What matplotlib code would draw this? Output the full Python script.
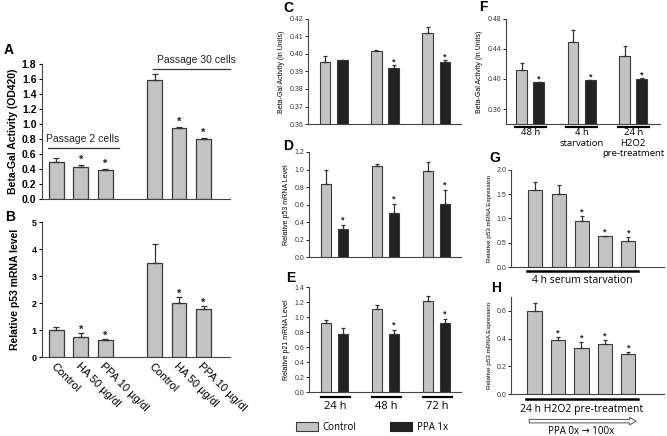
import numpy as np
import matplotlib
matplotlib.use('Agg')
import matplotlib.pyplot as plt
from matplotlib.patches import Patch

plt.rcParams['font.family'] = ['Liberation Sans', 'DejaVu Sans']

W, H = 667, 436

# ---- data ----
a_labels = ['Control', 'HA 50 µg/dl', 'PPA 10 µg/dl']
a_p2 = [0.49, 0.42, 0.38]
a_p2_err = [0.05, 0.03, 0.02]
a_p30 = [1.59, 0.94, 0.80]
a_p30_err = [0.07, 0.025, 0.01]
a_sig = [False, True, True]

b_p2 = [1.0, 0.73, 0.63]
b_p2_err = [0.1, 0.15, 0.02]
b_p30 = [3.5, 2.0, 1.78]
b_p30_err = [0.7, 0.21, 0.12]

time_labels = ['24 h', '48 h', '72 h']
c_ctrl = [0.3952, 0.4019, 0.4122]
c_ctrl_err = [0.0038, 0.0004, 0.003]
c_ppa = [0.3963, 0.3918, 0.3956]
c_ppa_err = [0.0005, 0.002, 0.001]
c_sig = [False, True, True]

d_ctrl = [0.83, 1.04, 0.98]
d_ctrl_err = [0.16, 0.025, 0.10]
d_ppa = [0.32, 0.50, 0.61]
d_ppa_err = [0.05, 0.11, 0.16]
d_sig = [True, True, True]

e_ctrl = [0.92, 1.11, 1.21]
e_ctrl_err = [0.045, 0.05, 0.07]
e_ppa = [0.77, 0.78, 0.92]
e_ppa_err = [0.09, 0.05, 0.06]
e_sig = [False, True, True]

f_labels = [['48 h'], ['4 h', 'starvation'], ['24 h', 'H2O2', 'pre-treatment']]
f_ctrl = [0.412, 0.449, 0.431]
f_ctrl_err = [0.009, 0.016, 0.013]
f_ppa = [0.396, 0.398, 0.400]
f_ppa_err = [0.0005, 0.001, 0.0015]
f_sig = [True, True, True]

g_vals = [1.58, 1.50, 0.95, 0.64, 0.54]
g_err = [0.17, 0.20, 0.10, 0.0, 0.08]
g_sig = [False, False, True, True, True]

h_vals = [0.60, 0.39, 0.33, 0.36, 0.29]
h_err = [0.06, 0.02, 0.045, 0.03, 0.015]
h_sig = [False, True, True, True, True]

gray = '#c3c3c3'
dark = '#222222'
edge = '#3a3a3a'
open_fam = ['Open Sans', 'DejaVu Sans']

fig = plt.figure(figsize=(W / 100, H / 100), dpi=100)


def px_axes(x0, x1, ytop, ybot):
    ax = fig.add_axes([x0 / W, 1 - ybot / H, (x1 - x0) / W, (ybot - ytop) / H])
    ax.spines['top'].set_visible(False)
    ax.spines['right'].set_visible(False)
    ax.spines['left'].set_color('#444444')
    ax.spines['bottom'].set_color('#444444')
    return ax


def bars(ax, x, vals, errs, color, width, cap=2, lw=0.9):
    vals = np.array(vals)
    errs = np.array(errs)
    ax.bar(x, vals, width=width, color=color, edgecolor=edge, linewidth=lw,
           yerr=[np.zeros_like(errs), errs], capsize=cap,
           error_kw=dict(elinewidth=0.9, capthick=0.9, ecolor='#333333'))
    return vals + errs


def stars(ax, x, tops, sig, off, fs):
    for xi, t, s in zip(x, tops, sig):
        if s:
            ax.text(xi, t + off, '*', ha='center', va='center', fontsize=fs,
                    fontweight='bold', color='#222222')


def panel_letter(x, y, s):
    fig.text(x / W, 1 - y / H, s, fontsize=10, fontweight='bold', va='center')


# ---- panel A ----
ax = px_axes(42, 230, 64, 199)
pos1 = np.array([0, 1, 2])
pos2 = np.array([4, 5, 6])
t1 = bars(ax, pos1, a_p2, a_p2_err, gray, 0.61)
t2 = bars(ax, pos2, a_p30, a_p30_err, gray, 0.61)
stars(ax, pos1, t1, a_sig, 0.07, 8)
stars(ax, pos2, t2, a_sig, 0.07, 8)
ax.set_xlim(-0.59, 7.08)
ax.set_ylim(0, 1.8)
ax.set_yticks(np.arange(0, 1.81, 0.2))
ax.set_yticklabels(['%.1f' % v for v in np.arange(0, 1.81, 0.2)],
                   fontsize=7.5, fontweight='bold')
ax.set_xticks([])
ax.tick_params(axis='y', length=2, width=0.8, pad=2)
ax.set_ylabel('Beta-Gal Activity (OD420)', fontsize=7.5, fontweight='bold', labelpad=3)
ax.text(1.05, 0.73, 'Passage 2 cells', ha='center', va='bottom', fontsize=7.5,
        color='#222222')
ax.plot([-0.35, 2.55], [0.68, 0.68], color='#333333', lw=0.9)
ax.text(5.7, 1.79, 'Passage 30 cells', ha='center', va='bottom', fontsize=7.5,
        color='#222222', clip_on=False)
ax.plot([3.95, 7.08], [1.73, 1.73], color='#333333', lw=0.9, clip_on=False)
panel_letter(4, 50, 'A')

# ---- panel B ----
ax = px_axes(42, 230, 222, 357)
t1 = bars(ax, pos1, b_p2, b_p2_err, gray, 0.61)
t2 = bars(ax, pos2, b_p30, b_p30_err, gray, 0.61)
stars(ax, pos1, t1, a_sig, 0.12, 8)
stars(ax, pos2, t2, a_sig, 0.12, 8)
ax.set_xlim(-0.59, 7.08)
ax.set_ylim(0, 5)
ax.set_yticks(range(6))
ax.set_yticklabels([str(i) for i in range(6)], fontsize=6.5, fontweight='bold')
ax.tick_params(axis='y', length=2, width=0.8, pad=2)
ax.set_xticks(np.concatenate([pos1, pos2]))
ax.set_xticklabels(a_labels + a_labels, rotation=-45, ha='left', va='top',
                   rotation_mode='anchor', fontsize=8)
ax.tick_params(axis='x', length=0, pad=3)
ax.set_ylabel('Relative p53 mRNA level', fontsize=7.5, fontweight='bold', labelpad=8)
panel_letter(5, 217, 'B')

# ---- panels C, D, E ----
grp = np.arange(3) * 3
small_fs = 5


def pair_panel(ax, ctrl, ctrl_err, ppa, ppa_err, sig, star_off):
    bars(ax, grp, ctrl, ctrl_err, gray, 0.62, lw=0.8, cap=1.5)
    tp = bars(ax, grp + 1, ppa, ppa_err, dark, 0.62, lw=0.8, cap=1.5)
    stars(ax, grp + 1, tp, sig, star_off, 6.5)
    ax.set_xlim(-1.0, 7.94)
    ax.set_xticks([])
    ax.tick_params(axis='y', length=2, width=0.6, pad=1.5, labelsize=small_fs,
                   labelcolor='#333333')


ax = px_axes(308, 461, 19, 124)
pair_panel(ax, c_ctrl, c_ctrl_err, c_ppa, c_ppa_err, c_sig, 0.0015)
ax.set_ylim(0.36, 0.42)
ax.set_yticks(np.arange(0.36, 0.4201, 0.01))
ax.set_yticklabels(['%.2f' % v for v in np.arange(0.36, 0.4201, 0.01)])
ax.set_ylabel('Beta-Gal Activity (in Units)', fontsize=small_fs, labelpad=3)
panel_letter(283, 8, 'C')

ax = px_axes(309, 461, 152, 257)
pair_panel(ax, d_ctrl, d_ctrl_err, d_ppa, d_ppa_err, d_sig, 0.05)
ax.set_ylim(0, 1.2)
ax.set_yticks(np.arange(0, 1.21, 0.2))
ax.set_yticklabels(['%.1f' % v for v in np.arange(0, 1.21, 0.2)])
ax.set_ylabel('Relative p53 mRNA Level', fontsize=small_fs, labelpad=3)
panel_letter(283, 146, 'D')

ax = px_axes(309, 461, 287, 392)
pair_panel(ax, e_ctrl, e_ctrl_err, e_ppa, e_ppa_err, e_sig, 0.06)
ax.set_ylim(0, 1.4)
ax.set_yticks(np.arange(0, 1.41, 0.2))
ax.set_yticklabels(['%.1f' % v for v in np.arange(0, 1.41, 0.2)])
ax.set_ylabel('Relative p21 mRNA Level', fontsize=small_fs, labelpad=3)
tr = ax.get_xaxis_transform()
for g, lab in zip(grp, time_labels):
    ax.plot([g - 0.3, g + 1.4], [-0.05, -0.05], transform=tr, color='black',
            lw=1.6, clip_on=False)
    ax.text(g + 0.55, -0.085, lab, transform=tr, ha='center', va='top',
            fontsize=8, family=open_fam)
panel_letter(286, 278, 'E')

handles = [Patch(facecolor=gray, edgecolor=edge, linewidth=0.8),
           Patch(facecolor=dark, edgecolor=dark, linewidth=0.8)]
fig.legend(handles, ['Control', 'PPA 1x'], loc='center', ncol=2,
           bbox_to_anchor=(372 / W, 1 - 427 / H), frameon=False,
           prop={'family': open_fam, 'size': 7}, handlelength=2.2,
           handleheight=1.0, columnspacing=3.5, handletextpad=0.5)

# ---- panel F ----
ax = px_axes(506, 660, 19, 124)
bars(ax, grp, f_ctrl, f_ctrl_err, gray, 0.62, lw=0.8, cap=1.5)
tp = bars(ax, grp + 1, f_ppa, f_ppa_err, dark, 0.62, lw=0.8, cap=1.5)
stars(ax, grp + 1, tp, f_sig, 0.004, 6.5)
ax.set_xlim(-0.91, 8.06)
ax.set_ylim(0.34, 0.48)
ax.set_yticks([0.36, 0.40, 0.44, 0.48])
ax.set_yticklabels(['0.36', '0.40', '0.44', '0.48'])
ax.set_xticks([])
ax.tick_params(axis='y', length=2, width=0.6, pad=1.5, labelsize=small_fs,
               labelcolor='#333333')
ax.set_ylabel('Beta-Gal Activity (in Units)', fontsize=small_fs, labelpad=3)
tr = ax.get_xaxis_transform()
for g, lines in zip(grp, f_labels):
    ax.plot([g - 0.4, g + 1.4], [-0.03, -0.03], transform=tr, color='black',
            lw=1.6, clip_on=False)
    for k, line in enumerate(lines):
        ax.text(g + 0.5, -0.04 - k * 0.1, line, transform=tr, ha='center',
                va='top', fontsize=6.8, family=open_fam)
panel_letter(479, 7, 'F')

# ---- panel G ----
five = np.arange(5)
ax = px_axes(511, 664, 170, 267)
tg = bars(ax, five, g_vals, g_err, gray, 0.6, lw=0.8, cap=1.5)
stars(ax, five, tg, g_sig, 0.08, 6.5)
ax.set_xlim(-1.05, 5.53)
ax.set_ylim(0, 2.0)
ax.set_yticks(np.arange(0, 2.01, 0.5))
ax.set_yticklabels(['%.1f' % v for v in np.arange(0, 2.01, 0.5)])
ax.set_xticks([])
ax.tick_params(axis='y', length=2, width=0.6, pad=1.5, labelsize=small_fs,
               labelcolor='#333333')
ax.set_ylabel('Relative p53 mRNA Expression', fontsize=4.5, labelpad=3)
tr = ax.get_xaxis_transform()
ax.plot([-0.35, 4.4], [-0.04, -0.04], transform=tr, color='black', lw=1.8,
        clip_on=False)
ax.text(2.0, -0.08, '4 h serum starvation', transform=tr, ha='center',
        va='top', fontsize=7.5, family=open_fam)
panel_letter(489, 158, 'G')

# ---- panel H ----
ax = px_axes(511, 664, 297, 394)
th = bars(ax, five, h_vals, h_err, gray, 0.62, lw=0.8, cap=1.5)
stars(ax, five, th, h_sig, 0.03, 6.5)
ax.set_xlim(-1.01, 5.53)
ax.set_ylim(0, 0.7)
ax.set_yticks(np.arange(0, 0.61, 0.2))
ax.set_yticklabels(['%.1f' % v for v in np.arange(0, 0.61, 0.2)])
ax.set_xticks([])
ax.tick_params(axis='y', length=2, width=0.6, pad=1.5, labelsize=small_fs,
               labelcolor='#333333')
ax.set_ylabel('Relative p53 mRNA Expression', fontsize=4.5, labelpad=3)
tr = ax.get_xaxis_transform()
ax.plot([-0.35, 4.4], [-0.05, -0.05], transform=tr, color='black', lw=1.8,
        clip_on=False)
ax.text(2.0, -0.1, '24 h H2O2 pre-treatment', transform=tr, ha='center',
        va='top', fontsize=7.5, family=open_fam)
ax.annotate('', xy=(4.45, -0.28), xytext=(-0.35, -0.28), xycoords=tr,
            textcoords=tr, annotation_clip=False,
            arrowprops=dict(arrowstyle='simple,head_width=0.55,head_length=0.45,tail_width=0.25',
                            fc='white', ec='#555555', lw=0.7))
ax.text(2.0, -0.33, 'PPA 0x → 100x', transform=tr, ha='center', va='top',
        fontsize=7, family=open_fam)
panel_letter(491, 288, 'H')

fig.savefig('out.png', dpi=100)
